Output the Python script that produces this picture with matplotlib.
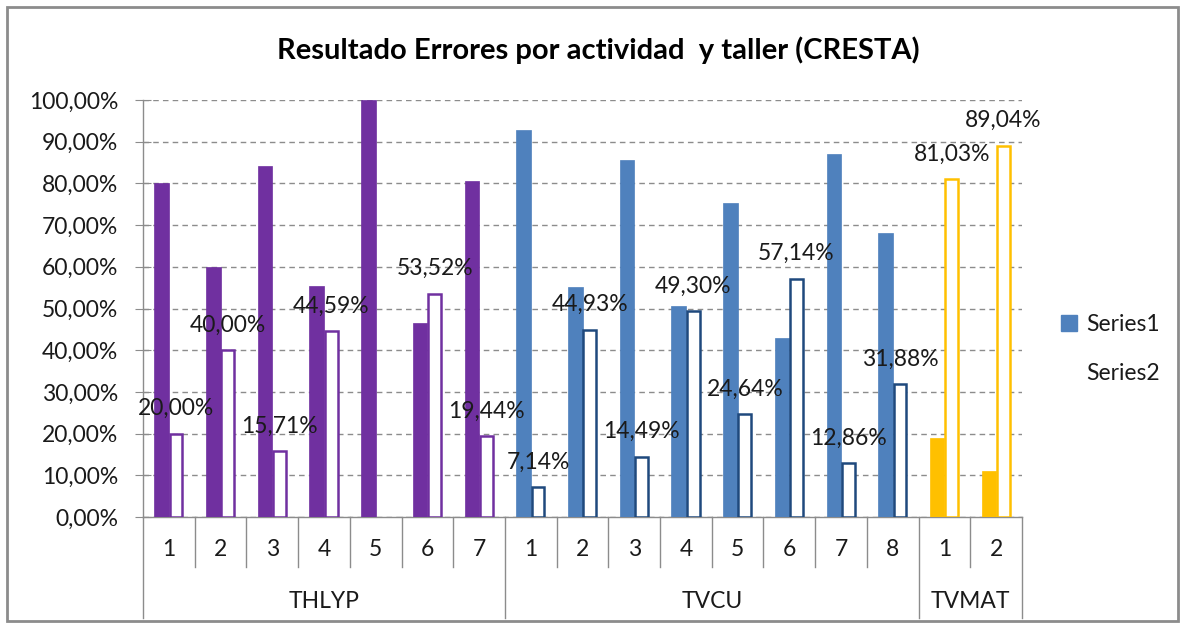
import matplotlib
matplotlib.use("Agg")
import matplotlib.pyplot as plt
from matplotlib.patches import Rectangle, Patch
import matplotlib.transforms as mtransforms
import numpy as np

plt.rcParams['font.family'] = ['Lato', 'DejaVu Sans']

# ---- data ----
groups = ["THLYP", "TVCU", "TVMAT"]
group_sizes = [7, 8, 2]
categories = ["1", "2", "3", "4", "5", "6", "7",
              "1", "2", "3", "4", "5", "6", "7", "8",
              "1", "2"]
series1 = [80.00, 60.00, 84.29, 55.41, 100.00, 46.48, 80.56,
           92.86, 55.07, 85.51, 50.70, 75.36, 42.86, 87.14, 68.12,
           18.97, 10.96]
series2 = [20.00, 40.00, 15.71, 44.59, None, 53.52, 19.44,
           7.14, 44.93, 14.49, 49.30, 24.64, 57.14, 12.86, 31.88,
           81.03, 89.04]
yticks = [0, 10, 20, 30, 40, 50, 60, 70, 80, 90, 100]
title = "Resultado Errores por actividad  y taller (CRESTA)"

# colors per group
fill_colors = {"THLYP": "#7030A0", "TVCU": "#4F81BD", "TVMAT": "#FFC000"}
edge_colors = {"THLYP": "#7030A0", "TVCU": "#1F497D", "TVMAT": "#FFC000"}

FS = 16.5
W, H = 1184, 628
fig = plt.figure(figsize=(W / 100, H / 100), dpi=100)
fig.patch.set_facecolor("white")

# outer frame
fig.add_artist(Rectangle((7 / W, 1 - 621 / H), (1178 - 7) / W, (621 - 7) / H,
                         transform=fig.transFigure, fill=False,
                         edgecolor="#8C8C8C", linewidth=2))

left, right, top, bottom = 143, 1022, 100, 517
ax = fig.add_axes([left / W, 1 - bottom / H, (right - left) / W, (bottom - top) / H])

n = len(categories)
x = np.arange(n)
grp_of = []
for g, s in zip(groups, group_sizes):
    grp_of += [g] * s

bw = 0.28
c1 = [fill_colors[g] for g in grp_of]
ax.bar(x - bw / 2, series1, width=bw, color=c1, edgecolor=c1, linewidth=0.5, zorder=3)

for i, (v, g) in enumerate(zip(series2, grp_of)):
    if v is None:
        continue
    ax.bar(x[i] + bw / 2, v, width=bw * 0.88, facecolor="white",
           edgecolor=edge_colors[g], linewidth=1.8, zorder=3)
    ax.annotate(f"{v:.2f}".replace(".", ",") + "%", (x[i] + bw / 2, v),
                xytext=(0, 18), textcoords="offset points",
                ha="center", va="center", fontsize=FS, color="#1a1a1a", zorder=5)

ax.set_xlim(-0.5, n - 0.5)
ax.set_ylim(0, 100)
ax.set_yticks(yticks)
ax.set_yticklabels([f"{t},00%" for t in yticks], fontsize=FS, color="#1a1a1a")
ax.yaxis.grid(True, linestyle=(0, (4, 3)), color="#8C8C8C", linewidth=1, zorder=0)
ax.set_axisbelow(True)
ax.tick_params(axis="y", direction="inout", length=12, color="#8C8C8C", pad=12)
ax.set_xticks([])
for s in ["top", "right"]:
    ax.spines[s].set_visible(False)
for s in ["left", "bottom"]:
    ax.spines[s].set_color("#8C8C8C")
    ax.spines[s].set_linewidth(1)

trans = mtransforms.blended_transform_factory(ax.transData, ax.transAxes)
ah = bottom - top
y_cat = -(567 - bottom) / ah
y_grp = -(618 - bottom) / ah
y_cat_lbl = -(550 - bottom) / ah
y_grp_lbl = -(601 - bottom) / ah

# category separators and labels
boundaries = np.cumsum([0] + group_sizes) - 0.5
for b in np.arange(n + 1) - 0.5:
    ymin = y_grp if b in boundaries else y_cat
    ax.plot([b, b], [0, ymin], transform=trans, color="#8C8C8C", lw=1, clip_on=False)
for i, c in enumerate(categories):
    ax.text(x[i], y_cat_lbl, c, transform=trans, ha="center", va="center",
            fontsize=FS, color="#1a1a1a")
for g, b0, b1 in zip(groups, boundaries[:-1], boundaries[1:]):
    ax.text((b0 + b1) / 2, y_grp_lbl, g, transform=trans, ha="center", va="center",
            fontsize=FS, color="#1a1a1a")

fig.text(598 / W, 1 - 50 / H, title, ha="center", va="center",
         fontsize=21, fontweight="bold", color="black")

handles = [Patch(facecolor="#4F81BD", edgecolor="#4F81BD", label="Series1"),
           Patch(facecolor="none", edgecolor="none", label="Series2")]
fig.legend(handles=handles, loc="center left", bbox_to_anchor=(1061 / W, 1 - 349 / H),
           frameon=False, fontsize=FS, handlelength=0.7, handleheight=0.7,
           handletextpad=0.4, labelspacing=1.25, labelcolor="#1a1a1a",
           borderaxespad=0, borderpad=0)

fig.savefig("out.png", dpi=100)
